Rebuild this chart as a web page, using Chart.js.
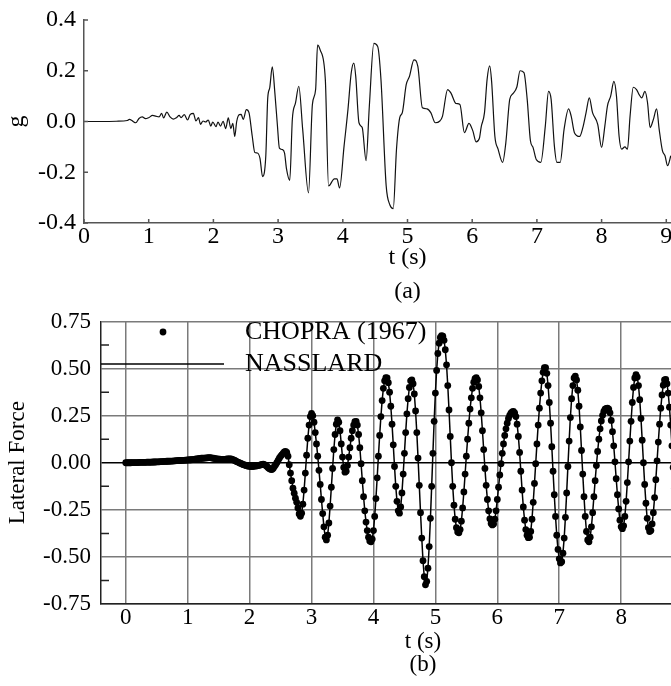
<!DOCTYPE html>
<html lang="en">
<head>
<meta charset="UTF-8">
<title>Ground acceleration and lateral force</title>
<script src="https://cdn.jsdelivr.net/npm/chart.js"></script>
<style>
  html, body { margin: 0; padding: 0; background: #fff; overflow: hidden; }
  #page { position: relative; width: 671px; height: 686px; overflow: hidden; background: #fff; }
  .panel { position: absolute; left: 0; }
</style>
</head>
<body>
<div id="page">
  <!-- both plots run to t = 10 s; the page crops them at about 9 s like the figure -->
  <div class="panel" style="top:0"><canvas id="chartA" width="760" height="310"></canvas></div>
  <div class="panel" style="top:300px"><canvas id="chartB" width="770" height="386"></canvas></div>
</div>

<script>
// (a) ground acceleration (t in s, g)
const accelTime = [0, 0.30, 0.50, 0.67, 0.70, 0.74, 0.77, 0.80, 0.85, 0.90, 0.95, 1.00, 1.06, 1.11, 1.16, 1.20, 1.23, 1.28, 1.33, 1.38,
  1.43, 1.47, 1.50, 1.55, 1.60, 1.64, 1.69, 1.73, 1.77, 1.80, 1.84, 1.88, 1.92, 1.96, 1.99, 2.04, 2.07, 2.11, 2.15, 2.19,
  2.23, 2.27, 2.30, 2.33, 2.36, 2.40, 2.43, 2.46, 2.51, 2.55, 2.60, 2.64, 2.68, 2.72, 2.76, 2.81, 2.84, 2.87, 2.91, 2.95,
  2.99, 3.02, 3.07, 3.10, 3.13, 3.18, 3.22, 3.27, 3.32, 3.38, 3.47, 3.53, 3.58, 3.61, 3.65, 3.73, 3.78, 3.87, 3.91, 3.95,
  4.02, 4.08, 4.13, 4.17, 4.20, 4.25, 4.30, 4.36, 4.41, 4.48, 4.54, 4.59, 4.67, 4.73, 4.78, 4.83, 4.88, 4.92, 4.98, 5.03,
  5.10, 5.16, 5.23, 5.30, 5.36, 5.43, 5.50, 5.54, 5.62, 5.67, 5.75, 5.81, 5.88, 5.95, 6.01, 6.06, 6.11, 6.14, 6.19, 6.23,
  6.27, 6.30, 6.35, 6.40, 6.47, 6.52, 6.58, 6.63, 6.69, 6.74, 6.80, 6.85, 6.90, 6.94, 6.99, 7.06, 7.13, 7.18, 7.22, 7.27,
  7.31, 7.36, 7.42, 7.49, 7.53, 7.58, 7.66, 7.71, 7.76, 7.81, 7.86, 7.94, 8.00, 8.05, 8.09, 8.14, 8.19, 8.23, 8.27, 8.31,
  8.36, 8.40, 8.44, 8.49, 8.54, 8.58, 8.62, 8.67, 8.71, 8.75, 8.80, 8.85, 8.89, 8.94, 8.98, 9.02, 9.07];
const accelG = [0, 0, 0.001, 0.004, 0.008, 0.004, -0.002, -0.005, 0.012, 0.018, 0.011, 0.015, 0.024, 0.021, 0.018, 0.032, 0.014, 0.037, 0.018, 0.009,
  0.015, 0.024, 0.015, 0.027, 0.006, 0.027, 0.032, 0.002, 0.015, -0.011, 0.002, -0.002, 0.006, -0.018, -0.002, -0.020, -0.002, -0.018, 0.001, -0.028,
  0.014, -0.028, -0.007, -0.059, 0.000, 0.027, 0.028, 0.008, 0.047, 0.035, -0.057, -0.122, -0.124, -0.145, -0.217, -0.135, 0.093, 0.132, 0.215, 0.113,
  -0.018, -0.105, -0.111, -0.125, -0.187, -0.232, 0.008, 0.074, 0.139, -0.031, -0.281, 0.067, 0.126, 0.301, 0.282, 0.165, -0.254, -0.226, -0.226, -0.262,
  -0.096, 0.048, 0.191, 0.230, 0.178, -0.005, -0.024, -0.154, 0.060, 0.308, 0.295, 0.165, -0.252, -0.330, -0.343, -0.109, 0.015, 0.035, 0.145, 0.178,
  0.243, 0.217, 0.054, 0.050, 0.035, -0.005, 0.002, 0.020, 0.126, 0.113, 0.071, 0.067, -0.044, -0.007, -0.037, -0.080, -0.067, -0.020, 0.035, 0.165,
  0.219, 0.158, -0.057, -0.109, -0.161, -0.083, 0.087, 0.110, 0.136, 0.200, 0.193, 0.087, -0.076, -0.102, -0.150, -0.161, -0.018, 0.119, 0.087, -0.096,
  -0.161, -0.161, -0.031, 0.050, 0.021, -0.044, -0.059, -0.024, 0.035, 0.093, 0.035, -0.011, -0.102, -0.018, 0.061, 0.100, 0.158, 0.100, -0.057, -0.109,
  -0.100, -0.109, 0.021, 0.135, 0.126, 0.106, 0.093, 0.119, 0.074, -0.024, 0.008, 0.050, -0.031, -0.115, -0.135, -0.174, -0.135];

// (b) lateral force, one value every forceStep seconds from t = forceStart
const forceStart = 0;
const forceStep = 0.02;
const forceValues = [
  0.000, 0.000, 0.000, 0.000, 0.000, 0.001, 0.001, 0.001, 0.001, 0.001,
  0.001, 0.002, 0.002, 0.002, 0.002, 0.002, 0.002, 0.003, 0.003, 0.003,
  0.003, 0.003, 0.004, 0.004, 0.004, 0.005, 0.005, 0.005, 0.006, 0.006,
  0.006, 0.007, 0.007, 0.008, 0.008, 0.008, 0.009, 0.009, 0.009, 0.010,
  0.010, 0.011, 0.011, 0.012, 0.012, 0.013, 0.013, 0.013, 0.014, 0.014,
  0.015, 0.015, 0.016, 0.016, 0.017, 0.018, 0.019, 0.020, 0.021, 0.022,
  0.023, 0.024, 0.024, 0.025, 0.025, 0.026, 0.026, 0.027, 0.027, 0.026,
  0.025, 0.024, 0.022, 0.021, 0.020, 0.019, 0.019, 0.018, 0.018, 0.018,
  0.018, 0.019, 0.020, 0.021, 0.021, 0.020, 0.018, 0.015, 0.012, 0.008,
  0.005, 0.002, -0.001, -0.004, -0.007, -0.010, -0.012, -0.014, -0.016, -0.018,
  -0.019, -0.020, -0.020, -0.019, -0.018, -0.017, -0.016, -0.015, -0.013, -0.011,
  -0.009, -0.008, -0.010, -0.014, -0.020, -0.026, -0.032, -0.035, -0.036, -0.030,
  -0.020, -0.010, 0.000, 0.012, 0.024, 0.034, 0.042, 0.050, 0.057, 0.060,
  0.055, 0.035, -0.010, -0.055, -0.095, -0.135, -0.162, -0.188, -0.210, -0.240,
  -0.272, -0.284, -0.268, -0.220, -0.145, -0.055, 0.040, 0.130, 0.200, 0.245,
  0.262, 0.250, 0.215, 0.160, 0.100, 0.035, -0.040, -0.115, -0.195, -0.270,
  -0.340, -0.395, -0.410, -0.385, -0.320, -0.230, -0.130, -0.030, 0.070, 0.150,
  0.205, 0.228, 0.215, 0.170, 0.100, 0.030, -0.025, -0.050, -0.045, -0.015,
  0.030, 0.080, 0.130, 0.170, 0.200, 0.218, 0.220, 0.200, 0.150, 0.080,
  -0.005, -0.095, -0.180, -0.255, -0.315, -0.360, -0.395, -0.415, -0.420, -0.405,
  -0.360, -0.285, -0.190, -0.080, 0.035, 0.145, 0.245, 0.330, 0.395, 0.435,
  0.452, 0.450, 0.425, 0.375, 0.300, 0.205, 0.095, -0.020, -0.125, -0.205,
  -0.255, -0.268, -0.235, -0.160, -0.060, 0.050, 0.160, 0.260, 0.340, 0.400,
  0.435, 0.440, 0.420, 0.365, 0.275, 0.160, 0.025, -0.120, -0.265, -0.400,
  -0.520, -0.605, -0.648, -0.630, -0.560, -0.445, -0.295, -0.125, 0.050, 0.220,
  0.370, 0.490, 0.580, 0.635, 0.665, 0.675, 0.672, 0.650, 0.600, 0.520,
  0.410, 0.280, 0.140, 0.000, -0.125, -0.225, -0.300, -0.345, -0.368, -0.372,
  -0.355, -0.310, -0.240, -0.155, -0.060, 0.035, 0.125, 0.210, 0.285, 0.345,
  0.395, 0.428, 0.447, 0.452, 0.440, 0.405, 0.345, 0.265, 0.170, 0.070,
  -0.030, -0.120, -0.195, -0.255, -0.298, -0.322, -0.330, -0.325, -0.300, -0.255,
  -0.195, -0.130, -0.065, -0.005, 0.050, 0.100, 0.145, 0.180, 0.210, 0.235,
  0.252, 0.263, 0.270, 0.272, 0.265, 0.245, 0.205, 0.140, 0.055, -0.045,
  -0.145, -0.235, -0.305, -0.355, -0.385, -0.398, -0.395, -0.365, -0.300, -0.210,
  -0.110, -0.005, 0.100, 0.200, 0.290, 0.370, 0.435, 0.480, 0.505, 0.505,
  0.475, 0.410, 0.320, 0.210, 0.085, -0.045, -0.170, -0.285, -0.385, -0.460,
  -0.510, -0.532, -0.525, -0.480, -0.400, -0.290, -0.160, -0.020, 0.115, 0.240,
  0.340, 0.410, 0.450, 0.460, 0.440, 0.385, 0.300, 0.190, 0.065, -0.060,
  -0.180, -0.285, -0.365, -0.410, -0.420, -0.395, -0.340, -0.265, -0.180, -0.095,
  -0.015, 0.060, 0.125, 0.180, 0.222, 0.252, 0.272, 0.284, 0.289, 0.290,
  0.285, 0.265, 0.225, 0.165, 0.090, 0.005, -0.085, -0.170, -0.245, -0.305,
  -0.340, -0.350, -0.335, -0.285, -0.205, -0.105, 0.005, 0.115, 0.220, 0.320,
  0.400, 0.450, 0.468, 0.455, 0.410, 0.335, 0.235, 0.120, 0.000, -0.115,
  -0.215, -0.295, -0.345, -0.365, -0.360, -0.325, -0.265, -0.185, -0.090, 0.010,
  0.110, 0.205, 0.290, 0.360, 0.412, 0.440, 0.442, 0.420, 0.370, 0.295,
  0.200, 0.090, -0.025, -0.135, -0.235, -0.310];

// tick values
const timeTicks = [0, 1, 2, 3, 4, 5, 6, 7, 8, 9, 10];
const accelTicks = [-0.4, -0.2, 0, 0.2, 0.4];
const forceTicks = [-0.75, -0.5, -0.25, 0, 0.25, 0.5, 0.75];
const forceMinorTicks = [-0.625, -0.375, -0.125, 0.125, 0.375, 0.625];
const legendLabels = ['CHOPRA (1967)', 'NASSLARD'];

const serif = "'Liberation Serif', 'Times New Roman', serif";

function setTicks(values) {
    return function (scale) {
        scale.ticks = values.map(function (v) { return { value: v }; });
    };
}

// short tick marks pointing into the plot area
function innerTicks(xVals, yVals, yMinor, len, minorLen, color) {
    return {
        id: 'innerTicks',
        afterDraw: function (chart) {
            const ctx = chart.ctx;
            const area = chart.chartArea;
            const sx = chart.scales.x;
            const sy = chart.scales.y;
            ctx.save();
            ctx.strokeStyle = color;
            ctx.lineWidth = 1.5;
            ctx.beginPath();
            xVals.forEach(function (v) {
                const px = sx.getPixelForValue(v);
                ctx.moveTo(px, area.bottom);
                ctx.lineTo(px, area.bottom - len);
            });
            yVals.forEach(function (v) {
                const py = sy.getPixelForValue(v);
                ctx.moveTo(area.left, py);
                ctx.lineTo(area.left + len, py);
            });
            yMinor.forEach(function (v) {
                const py = sy.getPixelForValue(v);
                ctx.moveTo(area.left, py);
                ctx.lineTo(area.left + minorLen, py);
            });
            ctx.stroke();
            ctx.restore();
        }
    };
}

// ---------- (a) ----------
const accelPoints = accelTime.map(function (t, i) { return { x: t, y: accelG[i] }; });

new Chart(document.getElementById('chartA'), {
    type: 'scatter',
    data: {
        datasets: [{
            label: 'acceleration',
            data: accelPoints,
            showLine: true,
            borderColor: '#111',
            borderWidth: 1.2,
            pointRadius: 0,
            cubicInterpolationMode: 'monotone'
        }]
    },
    options: {
        responsive: false,
        animation: false,
        layout: { padding: { top: 18, right: 29, bottom: 0, left: 0 } },
        plugins: { legend: { display: false }, tooltip: { enabled: false } },
        scales: {
            x: {
                type: 'linear', min: 0, max: 10,
                afterBuildTicks: setTicks(timeTicks),
                afterFit: function (s) { s.height = 87; },
                grid: { display: false, drawTicks: false },
                border: { display: true, color: '#555', width: 1.5 },
                ticks: { padding: 2, color: '#000', maxRotation: 0, autoSkip: false,
                    font: { family: serif, size: 24, lineHeight: 1 },
                    callback: function (v) { return String(v); } },
                title: { display: true, text: ['t (s)', '(a)'], color: '#000',
                    font: { family: serif, size: 24, lineHeight: 1.42 },
                    padding: { top: 0, bottom: 1 } }
            },
            y: {
                type: 'linear', min: -0.4, max: 0.4,
                afterBuildTicks: setTicks(accelTicks),
                afterFit: function (s) { s.width = 84; },
                grid: { display: false, drawTicks: false },
                border: { display: true, color: '#555', width: 1.5 },
                ticks: { padding: 8, color: '#000',
                    font: { family: serif, size: 24, lineHeight: 1 },
                    callback: function (v) { return v.toFixed(1); } },
                title: { display: true, text: 'g', color: '#000',
                    font: { family: serif, size: 24 }, padding: { top: 2, bottom: 0 } }
            }
        }
    },
    plugins: [innerTicks(timeTicks, accelTicks, [], 4, 0, '#555')]
});

// ---------- (b) ----------
const forcePoints = forceValues.map(function (v, i) { return { x: forceStart + i * forceStep, y: v }; });

// legend drawn inside the plot, over the grid
const forceLegend = {
    id: 'forceLegend',
    afterDatasetsDraw: function (chart) {
        const ctx = chart.ctx;
        const left = chart.chartArea.left;
        ctx.save();
        ctx.fillStyle = '#000';
        ctx.beginPath();
        ctx.arc(163, 32, 3.4, 0, Math.PI * 2);
        ctx.fill();
        ctx.strokeStyle = '#000';
        ctx.lineWidth = 1.5;
        ctx.beginPath();
        ctx.moveTo(left, 64);
        ctx.lineTo(224, 64);
        ctx.stroke();
        ctx.font = '26px ' + serif;
        ctx.textBaseline = 'middle';
        ctx.fillText(legendLabels[0], 245, 32);
        ctx.fillText(legendLabels[1], 245, 64);
        ctx.restore();
    }
};

new Chart(document.getElementById('chartB'), {
    type: 'scatter',
    data: {
        datasets: [{
            label: legendLabels[0],
            data: forcePoints,
            showLine: false,
            pointRadius: 3.4,
            pointBackgroundColor: '#000',
            pointBorderWidth: 0
        }, {
            label: legendLabels[1],
            data: forcePoints,
            showLine: true,
            borderColor: '#000',
            borderWidth: 1.5,
            pointRadius: 0
        }]
    },
    options: {
        responsive: false,
        animation: false,
        layout: { padding: { top: 12, right: 25, bottom: 0, left: 0 } },
        plugins: { legend: { display: false }, tooltip: { enabled: false } },
        scales: {
            x: {
                type: 'linear', min: -0.4, max: 10,
                afterBuildTicks: setTicks(timeTicks),
                afterFit: function (s) { s.height = 82; },
                grid: { display: true, drawTicks: false, color: '#7a7a7a', lineWidth: 1.5 },
                border: { display: true, color: '#222', width: 1.5 },
                ticks: { padding: 2, color: '#000', maxRotation: 0, autoSkip: false,
                    font: { family: serif, size: 23, lineHeight: 1 },
                    callback: function (v) { return String(v); } },
                title: { display: true, text: ['t (s)', '(b)'], color: '#000',
                    font: { family: serif, size: 23, lineHeight: 1.0 },
                    padding: { top: 0, bottom: 9.5 } }
            },
            y: {
                type: 'linear', min: -0.75, max: 0.75,
                afterBuildTicks: setTicks(forceTicks),
                afterFit: function (s) { s.width = 101; },
                grid: { display: true, drawTicks: false, lineWidth: 1.5,
                    color: function (c) { return c.tick && c.tick.value === 0 ? '#000' : '#7a7a7a'; } },
                border: { display: true, color: '#222', width: 1.5 },
                ticks: { padding: 10, color: '#000',
                    font: { family: serif, size: 23, lineHeight: 1 },
                    callback: function (v) { return v.toFixed(2); } },
                title: { display: true, text: 'Lateral Force', color: '#000',
                    font: { family: serif, size: 23 }, padding: { top: 4, bottom: 0 } }
            }
        }
    },
    plugins: [innerTicks([], [], forceMinorTicks, 0, 8, '#222'), forceLegend]
});
</script>
</body>
</html>
